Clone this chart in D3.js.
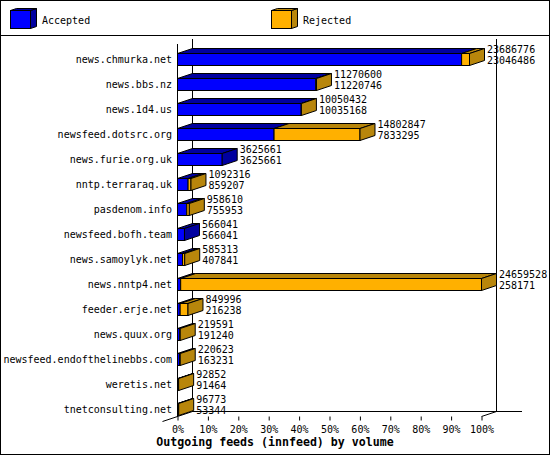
<!DOCTYPE html>
<html><head><meta charset="utf-8">
<script src="https://cdn.jsdelivr.net/npm/d3@7"></script>
<style>
body{margin:0;background:#fff}
svg{display:block}
text{font-family:"DejaVu Sans Mono",monospace;font-size:10px;fill:#000}
</style>
</head><body>
<svg id="c" width="550" height="455"></svg>
<script>
const hosts = ["news.chmurka.net","news.bbs.nz","news.1d4.us","newsfeed.dotsrc.org","news.furie.org.uk","nntp.terraraq.uk","pasdenom.info","newsfeed.bofh.team","news.samoylyk.net","news.nntp4.net","feeder.erje.net","news.quux.org","newsfeed.endofthelinebbs.com","weretis.net","tnetconsulting.net"];
const offered = [23686776,11270600,10050432,14802847,3625661,1092316,958610,566041,585313,24659528,849996,219591,220623,92852,96773];
const accepted = [23046486,11220746,10035168,7833295,3625661,859207,755953,566041,407841,258171,216238,191240,163231,91464,53344];
const seriesNames = ["Accepted","Rejected"];
const tickValues = [0,10,20,30,40,50,60,70,80,90,100];
const tickLabels = ["0%","10%","20%","30%","40%","50%","60%","70%","80%","90%","100%"];
const title = "Outgoing feeds (innfeed) by volume";

const front = ["#0000ff","#ffb000"];
const dark = ["#0000a0","#b8860b"];
const DX = 15, DY = 5, BH = 12;

const svg = d3.select("#c");
svg.append("rect").attr("x",0.5).attr("y",0.5).attr("width",549).attr("height",454)
  .attr("fill","#fff").attr("stroke","#000");
svg.append("line").attr("x1",0).attr("x2",550).attr("y1",35.5).attr("y2",35.5).attr("stroke","#000");

// legend
const legX = [10, 271];
seriesNames.forEach((n,i)=>{
  const g = svg.append("g").attr("transform",`translate(${legX[i]},10)`);
  const w=20,h=18,dx=6,dy=2;
  g.append("path").attr("d",`M${w+.5},.5 L${w+dx+.5},${-dy+.5} L${w+dx+.5},${h-dy+.5} L${w+.5},${h+.5}Z`)
    .attr("fill",dark[i]).attr("stroke","#000");
  g.append("path").attr("d",`M.5,.5 L${dx+.5},${-dy+.5} L${w+dx+.5},${-dy+.5} L${w+.5},.5Z`)
    .attr("fill",dark[i]).attr("stroke","#000");
  g.append("rect").attr("x",.5).attr("y",.5).attr("width",w).attr("height",h)
    .attr("fill",front[i]).attr("stroke","#000");
  g.append("text").attr("x",w+12).attr("y",14).text(n);
});

const maxV = d3.max(offered);
const x = d3.scaleLinear().domain([0,maxV]).range([177,481]);
const pct = d3.scaleLinear().domain([0,100]).range([177,481]);
const y = d3.scaleBand().domain(hosts).range([44,419]);

const X0 = pct(0), X100 = pct(100), FY = 416;
const L = (x1,y1,x2,y2)=>svg.append("line").attr("x1",x1).attr("y1",y1).attr("x2",x2).attr("y2",y2)
  .attr("stroke","#000").attr("stroke-width",1);

// 3D frame
L(X0+DX+.5,39,X0+DX+.5,FY-DY+.5);
L(X100+DX+.5,39,X100+DX+.5,FY-DY+.5);
L(X0+DX,FY-DY+.5,522,FY-DY+.5);
L(X0+.5,44,X0+.5,FY+.5);
L(X0-DX+.5,FY+DY+.5,X0+DX+.5,FY-DY+.5);
L(X100+.5,FY+.5,X100+DX+.5,FY-DY+.5);

const ax = svg.append("g").attr("transform",`translate(0.5,${FY+.5})`)
  .call(d3.axisBottom(pct).tickValues(tickValues).tickFormat((d,i)=>tickLabels[i]).tickSize(4).tickSizeOuter(0).tickPadding(5));
ax.select(".domain").remove();
ax.selectAll("line").attr("stroke","#000");
ax.selectAll("text").attr("font-family","DejaVu Sans Mono").attr("font-size",10).attr("fill","#000");

// bars
hosts.forEach((h,i)=>{
  const y0 = y(h)+9;
  const segs = [[0,accepted[i],0],[accepted[i],offered[i],1]].filter(s=>s[1]>s[0]);
  const g = svg.append("g");
  segs.forEach(s=>{
    const a = x(s[0]), b = x(s[1]);
    g.append("path").attr("d",`M${a+.5},${y0+.5} L${a+DX+.5},${y0-DY+.5} L${b+DX+.5},${y0-DY+.5} L${b+.5},${y0+.5}Z`)
      .attr("fill",dark[s[2]]).attr("stroke","#000");
    g.append("rect").attr("x",a+.5).attr("y",y0+.5).attr("width",b-a).attr("height",BH)
      .attr("fill",front[s[2]]).attr("stroke","#000");
  });
  const last = segs[segs.length-1];
  const e = x(offered[i]);
  g.append("path").attr("d",`M${e+.5},${y0+.5} L${e+DX+.5},${y0-DY+.5} L${e+DX+.5},${y0+BH-DY+.5} L${e+.5},${y0+BH+.5}Z`)
    .attr("fill",dark[last[2]]).attr("stroke","#000");
  svg.append("text").attr("x",172).attr("y",y0+10).attr("text-anchor","end").text(h);
  svg.append("text").attr("x",e+DX+3).attr("y",y0).text(offered[i]);
  svg.append("text").attr("x",e+DX+3).attr("y",y0+11).text(accepted[i]);
});

svg.append("text").attr("x",275).attr("y",446).attr("text-anchor","middle")
  .attr("font-weight","bold").style("font-size","11.6px").text(title);
</script>
</body></html>
